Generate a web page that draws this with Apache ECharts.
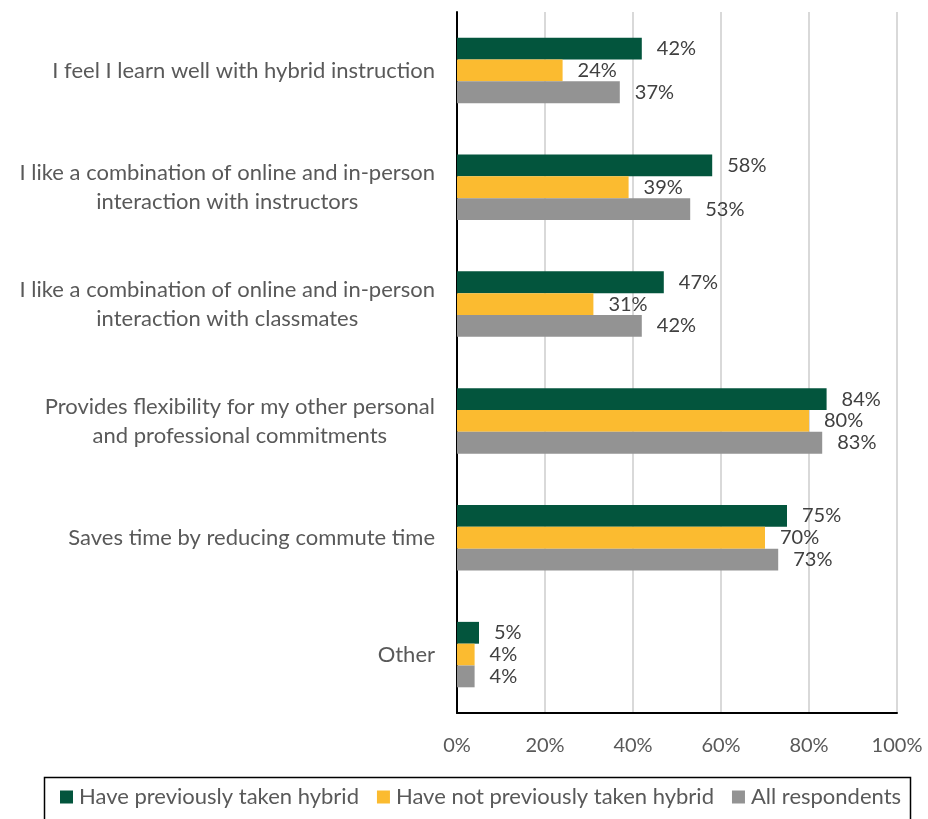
<!DOCTYPE html>
<html>
<head>
<meta charset="utf-8">
<script src="https://cdn.jsdelivr.net/npm/echarts@6/dist/echarts.min.js"></script>
<style>
  html, body { margin: 0; padding: 0; background: #fff; }
  #chart { width: 928px; height: 819px; }
</style>
</head>
<body>
<div id="chart"></div>
<script>
var categories = [
  "I feel I learn well with hybrid instruction",
  "I like a combination of online and in-person\ninteraction with instructors",
  "I like a combination of online and in-person\ninteraction with classmates",
  "Provides flexibility for my other personal\nand professional commitments",
  "Saves time by reducing commute time",
  "Other"
];
var seriesNames = [
  "Have previously taken hybrid",
  "Have not previously taken hybrid",
  "All respondents"
];
var tookHybrid = [42, 58, 47, 84, 75, 5];
var notTookHybrid = [24, 39, 31, 80, 70, 4];
var allRespondents = [37, 53, 42, 83, 73, 4];
var xTicks = [0, 20, 40, 60, 80, 100];

var colors = ["#03553d", "#fbbb30", "#939393"];
var font = "Lato, 'Open Sans', sans-serif";

var chart = echarts.init(document.getElementById("chart"));

function makeSeries(name, values, color) {
  return {
    name: name,
    type: "bar",
    data: values,
    barGap: "0%",
    barCategoryGap: "44%",
    itemStyle: { color: color },
    label: {
      show: true,
      position: "right",
      distance: 15,
      formatter: "{c}%",
      color: "#404040",
      fontSize: 20,
      fontFamily: font
    }
  };
}

var option = {
  animation: false,
  backgroundColor: "#fff",
  color: colors,
  grid: { left: 457, right: 31, top: 12, bottom: 106 },
  graphic: [{
    type: "rect",
    left: 42,
    top: 775,
    shape: { width: 866, height: 60 },
    style: { fill: "none", stroke: "#000", lineWidth: 1.5 }
  }],
  xAxis: {
    type: "value",
    min: xTicks[0],
    max: xTicks[xTicks.length - 1],
    interval: 20,
    axisLine: { show: true, lineStyle: { color: "#000", width: 2 } },
    axisTick: { show: false },
    splitLine: { show: true, lineStyle: { color: "#d9d9d9", width: 2 } },
    axisLabel: {
      formatter: "{value}%",
      color: "#595959",
      fontSize: 20,
      fontFamily: font,
      margin: 23
    }
  },
  yAxis: {
    type: "category",
    data: categories,
    inverse: true,
    axisLine: { show: true, lineStyle: { color: "#000", width: 2 } },
    axisTick: { show: false },
    axisLabel: {
      margin: 22,
      color: "#595959",
      fontSize: 22,
      fontFamily: font,
      lineHeight: 29,
      formatter: function (v) {
        return v.split("\n").map(function (s) { return "{c|" + s + "}"; }).join("\n");
      },
      rich: {
        c: { align: "center", color: "#595959", fontSize: 22, fontFamily: font, lineHeight: 29 }
      }
    }
  },
  legend: {
    top: 786,
    left: 60,
    itemWidth: 13,
    itemHeight: 13,
    itemGap: 18,
    icon: "rect",
    padding: 0,
    textStyle: { color: "#595959", fontSize: 22, fontFamily: font, padding: [0, 0, 0, 1] },
    data: seriesNames
  },
  series: [
    makeSeries(seriesNames[0], tookHybrid, colors[0]),
    makeSeries(seriesNames[1], notTookHybrid, colors[1]),
    makeSeries(seriesNames[2], allRespondents, colors[2])
  ]
};

chart.setOption(option);
</script>
</body>
</html>
